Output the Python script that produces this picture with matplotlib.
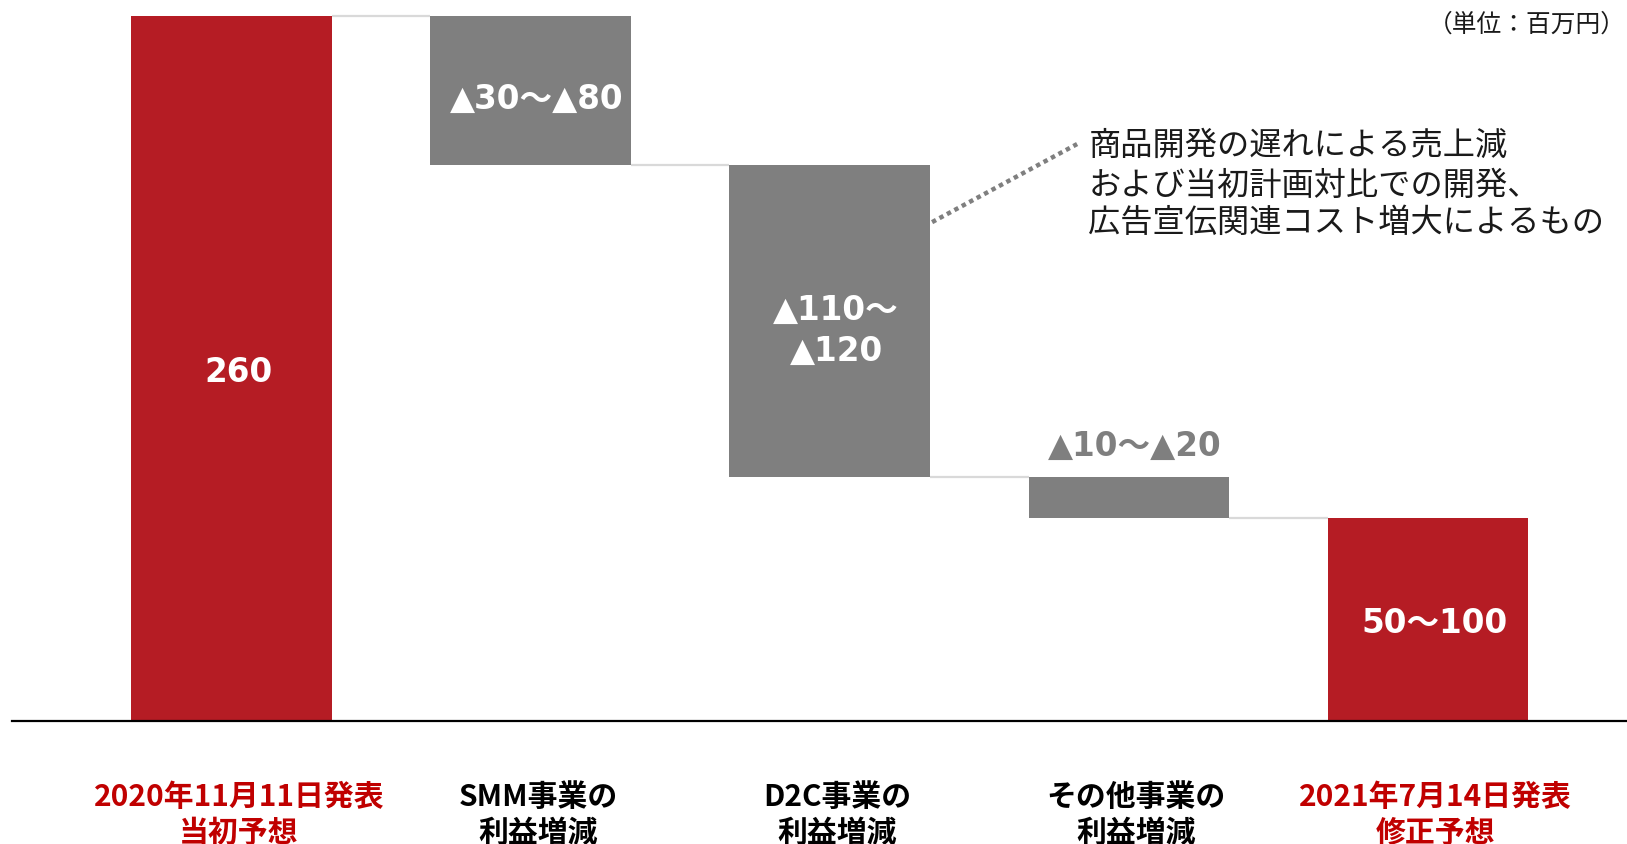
import matplotlib.pyplot as plt
import numpy as np

# Operating profit bridge (million yen)
categories_line1 = ["2020年11月11日発表", "SMM事業の", "D2C事業の", "その他事業の", "2021年7月14日発表"]
categories_line2 = ["当初予想", "利益増減", "利益増減", "利益増減", "修正予想"]
start_value = 260
changes = [-55, -115, -15]
end_value = 75
value_labels = ["260", "▲30～▲80", "▲110～\n▲120", "▲10～▲20", "50～100"]

red = "#b51c24"
gray = "#7f7f7f"
label_red = "#c00000"

# bottoms / heights of the waterfall bars
levels = [start_value] + list(start_value + np.cumsum(changes))
bottoms = [0] + [levels[i + 1] for i in range(len(changes))] + [0]
heights = [start_value] + [-c for c in changes] + [end_value]
colors = [red] + [gray] * len(changes) + [red]
x = np.arange(len(heights))
width = 0.669

fig = plt.figure(figsize=(16.27, 8.45), dpi=100)
ax = fig.add_axes([12 / 1627, 123 / 845, 1615 / 1627, 722 / 845])

ax.bar(x, heights, width, bottom=bottoms, color=colors, zorder=2)

# connectors between bars
tops = [b + h for b, h in zip(bottoms, heights)]
conn_levels = [start_value] + list(levels[1:])
for i in range(len(x) - 1):
    ax.plot([x[i] + width / 2, x[i + 1] - width / 2], [conn_levels[i], conn_levels[i]],
            color="#d9d9d9", lw=1.6, zorder=1, solid_capstyle="butt")

ax.set_xlim(-0.734, 4.667)
ax.set_ylim(0, 266.3)
for s in ["top", "left", "right"]:
    ax.spines[s].set_visible(False)
ax.spines["bottom"].set_linewidth(1.6)
ax.spines["bottom"].set_zorder(3)
ax.set_xticks([])
ax.set_yticks([])

num_font = ["DejaVu Sans", "Noto Sans CJK JP"]
fs = 23.5
dx = 0.022  # text sits slightly right of bar centres

# value labels
ax.text(x[0] + dx, start_value / 2 - 1.2, value_labels[0], color="white", fontsize=fs,
        fontweight="bold", family=num_font, ha="center", va="center")
ax.text(x[1] + dx, bottoms[1] + heights[1] / 2 - 3, value_labels[1], color="white", fontsize=fs,
        fontweight="bold", family=num_font, ha="center", va="center")
line_a, line_b = value_labels[2].split("\n")
ax.text(x[2] + dx, 151.7, line_a, color="white", fontsize=fs, fontweight="bold",
        family=num_font, ha="center", va="center")
ax.text(x[2] + dx, 136.6, line_b, color="white", fontsize=fs, fontweight="bold",
        family=num_font, ha="center", va="center")
ax.text(x[3] + dx, tops[3] + 11.5, value_labels[3], color=gray, fontsize=fs,
        fontweight="bold", family=num_font, ha="center", va="center")
ax.text(x[4] + dx, end_value / 2 - 1.2, value_labels[4], color="white", fontsize=fs,
        fontweight="bold", family=num_font, ha="center", va="center")

# note for the D2C bar
ax.plot([2.343, 2.828], [184.0, 212.8], color=gray, lw=3.2,
        linestyle=(0, (1, 0.9)), dash_capstyle="butt")
note = ["商品開発の遅れによる売上減",
        "および当初計画対比での開発、",
        "広告宣伝関連コスト増大によるもの"]
for line, yy in zip(note, [212.5, 197.6, 184.0]):
    ax.text(2.866, yy, line, fontsize=23.2, family=["Noto Sans CJK JP"],
            ha="left", va="center", color="#1a1a1a")

# category labels
trans = ax.get_xaxis_transform()
for i in range(len(x)):
    c = label_red if i in (0, len(x) - 1) else "black"
    ax.text(x[i] + 0.025, -0.104, categories_line1[i], transform=trans, ha="center",
            va="center", fontsize=21.5, fontweight="bold", family=["Noto Sans CJK JP"], color=c)
    ax.text(x[i] + 0.025, -0.154, categories_line2[i], transform=trans, ha="center",
            va="center", fontsize=21.5, fontweight="bold", family=["Noto Sans CJK JP"], color=c)

fig.text(1626 / 1627, 1 - 25 / 845, "（単位：百万円）", ha="right", va="center",
         fontsize=17.8, family=["Noto Sans CJK JP"], color="#1a1a1a")

fig.savefig("out.png", dpi=100)
